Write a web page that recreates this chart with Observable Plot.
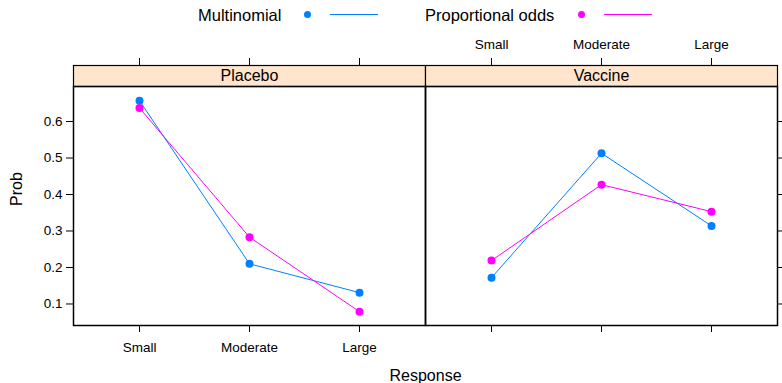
<!DOCTYPE html>
<html>
<head>
<meta charset="utf-8">
<script src="https://cdn.jsdelivr.net/npm/d3@7"></script>
<script src="https://cdn.jsdelivr.net/npm/@observablehq/plot@0.6"></script>
<style>
  body { margin: 0; background: white; font-family: "Liberation Sans", Arial, Helvetica, sans-serif; }
  #legend { position: relative; width: 782px; height: 30px; font-size: 16.5px; color: black; }
  #legend span { position: absolute; display: block; }
  .lbl { top: 0; line-height: 30px; white-space: nowrap; }
  .dot { width: 7px; height: 7px; border-radius: 50%; top: 11px; }
  .ln { height: 1px; top: 14px; }
</style>
</head>
<body>
<div id="legend"></div>
<div id="chart"></div>
<script>
const groups = ["Placebo", "Vaccine"];
const responses = ["Small", "Moderate", "Large"];
const models = ["Multinomial", "Proportional odds"];
const modelColors = ["#0080ff", "#ff00ff"];
const placeboMultinomial = [0.657, 0.210, 0.131];
const placeboPropOdds    = [0.637, 0.283, 0.079];
const vaccineMultinomial = [0.172, 0.513, 0.314];
const vaccinePropOdds    = [0.219, 0.427, 0.353];
const probTicks = [0.1, 0.2, 0.3, 0.4, 0.5, 0.6];

const series = {
  "Placebo|Multinomial": placeboMultinomial,
  "Placebo|Proportional odds": placeboPropOdds,
  "Vaccine|Multinomial": vaccineMultinomial,
  "Vaccine|Proportional odds": vaccinePropOdds
};
const rows = [];
for (const g of groups) for (const m of models) {
  series[g + "|" + m].forEach((p, i) => rows.push({group: g, model: m, response: responses[i], prob: p}));
}
const cross = groups.flatMap(g => responses.map(r => ({g, r})));

// Legend (HTML, above the SVG)
const legend = d3.select("#legend");
const legendItems = [
  {text: models[0], color: modelColors[0], tx: 198, dx: 304, lx: 330},
  {text: models[1], color: modelColors[1], tx: 425, dx: 578, lx: 604}
];
for (const it of legendItems) {
  legend.append("span").attr("class", "lbl").style("left", it.tx + "px").text(it.text);
  legend.append("span").attr("class", "dot").style("left", it.dx + "px").style("background-color", it.color);
  legend.append("span").attr("class", "ln").style("left", it.lx + "px").style("width", "48px").style("background-color", it.color);
}

const frameH = 239;
const tickFont = 13.5;

const dataMarks = models.flatMap(m => {
  const d = rows.filter(r => r.model === m);
  return [
    Plot.line(d, {x: "response", y: "prob", fx: "group", stroke: "model", strokeWidth: 1}),
    Plot.dot(d, {x: "response", y: "prob", fx: "group", fill: "model", r: 4})
  ];
});

const chart = Plot.plot({
  width: 782,
  height: 353,
  marginTop: 56,
  marginBottom: 58,
  marginLeft: 73,
  marginRight: 5,
  style: {fontFamily: '"Liberation Sans", Arial, Helvetica, sans-serif', fontSize: tickFont + "px", color: "black", background: "white", overflow: "visible"},
  fx: {domain: groups, padding: 0, axis: null, label: null},
  x: {type: "point", domain: responses, padding: 0.6, axis: null},
  y: {domain: [0.041, 0.696]},
  color: {domain: models, range: modelColors},
  marks: [
    Plot.frame({fill: "#ffe5cc", stroke: "black", strokeWidth: 1.2, insetTop: -21, insetBottom: frameH}),
    Plot.text(groups, {fx: d => d, text: d => d, frameAnchor: "top", lineAnchor: "middle", dy: -10.5, fontSize: 16}),
    Plot.frame({stroke: "black", strokeWidth: 1.5}),
    Plot.axisY({anchor: "left", ticks: probTicks, tickSize: 7, tickPadding: 4, fontSize: tickFont, tickFormat: d3.format(".1f"), label: null}),
    Plot.axisY({anchor: "right", ticks: probTicks, tickSize: 7, tickFormat: () => "", label: null}),
    Plot.tickX(cross, {x: "r", fx: "g", insetTop: -28, insetBottom: frameH + 21, stroke: "black"}),
    Plot.tickX(cross, {x: "r", fx: "g", insetTop: frameH, insetBottom: -7, stroke: "black"}),
    Plot.text(responses, {x: d => d, fx: () => "Vaccine", text: d => d, frameAnchor: "top", lineAnchor: "middle", dy: -42, fontSize: tickFont}),
    Plot.text(responses, {x: d => d, fx: () => "Placebo", text: d => d, frameAnchor: "bottom", lineAnchor: "middle", dy: 22, fontSize: tickFont}),
    Plot.text(["Prob"], {fx: () => "Placebo", text: d => d, frameAnchor: "left", lineAnchor: "middle", dx: -57, rotate: -90, fontSize: 16}),
    Plot.text(["Response"], {fx: () => "Placebo", text: d => d, frameAnchor: "bottom-right", textAnchor: "middle", lineAnchor: "middle", dy: 50, fontSize: 16}),
    ...dataMarks
  ]
});
document.getElementById("chart").appendChild(chart);
</script>
</body>
</html>
